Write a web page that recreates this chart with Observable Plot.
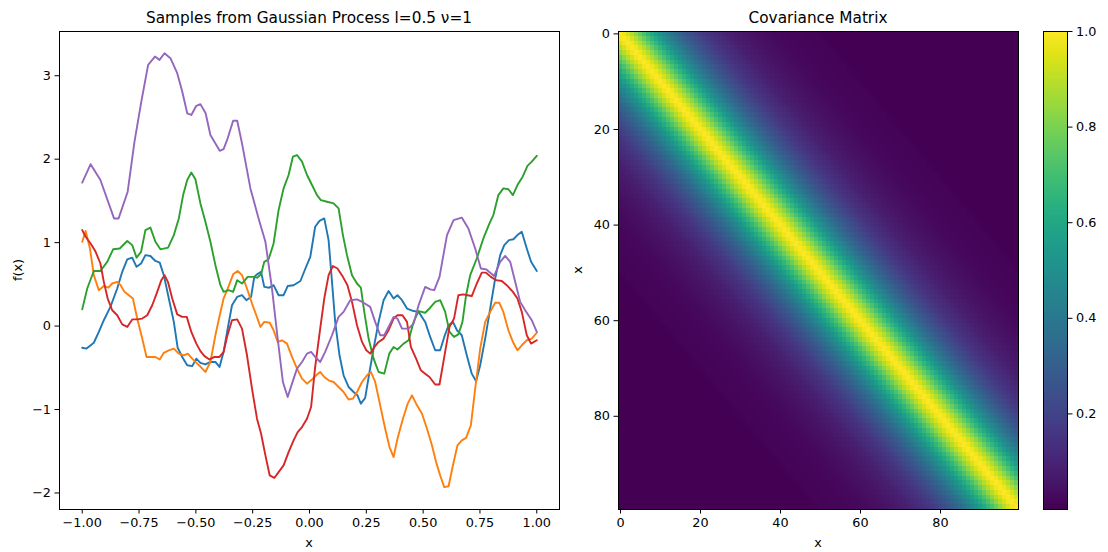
<!DOCTYPE html>
<html><head><meta charset="utf-8">
<script src="https://cdn.jsdelivr.net/npm/d3@7"></script>
<script src="https://cdn.jsdelivr.net/npm/@observablehq/plot@0.6"></script>
<style>
body{margin:0;background:#fff;}
#wrap{position:relative;width:1108px;height:552px;overflow:hidden;background:#fff}
#wrap svg{position:absolute;top:0}
</style></head><body><div id="wrap"></div>
<script>
// ---- Samples (x, f(x)) ----
const blue = [[-1,-0.26],[-0.981,-0.27],[-0.949,-0.20],[-0.927,-0.07],[-0.905,0.07],[-0.876,0.23],[-0.846,0.45],[-0.824,0.65],[-0.802,0.80],[-0.78,0.82],[-0.761,0.71],[-0.741,0.75],[-0.722,0.85],[-0.70,0.84],[-0.678,0.78],[-0.659,0.76],[-0.641,0.61],[-0.619,0.33],[-0.597,0.05],[-0.58,-0.26],[-0.56,-0.37],[-0.538,-0.47],[-0.516,-0.48],[-0.498,-0.39],[-0.48,-0.44],[-0.458,-0.46],[-0.436,-0.43],[-0.414,-0.43],[-0.396,-0.49],[-0.378,-0.31],[-0.36,-0.03],[-0.341,0.25],[-0.318,0.35],[-0.297,0.37],[-0.278,0.31],[-0.257,0.35],[-0.243,0.59],[-0.231,0.62],[-0.213,0.65],[-0.199,0.47],[-0.177,0.46],[-0.158,0.49],[-0.136,0.37],[-0.114,0.37],[-0.096,0.48],[-0.07,0.49],[-0.04,0.54],[-0.018,0.69],[0.0035,0.83],[0.025,1.19],[0.044,1.26],[0.065,1.29],[0.084,1.03],[0.099,0.53],[0.113,0.05],[0.132,-0.35],[0.15,-0.59],[0.172,-0.73],[0.194,-0.79],[0.211,-0.83],[0.226,-0.93],[0.245,-0.86],[0.264,-0.55],[0.282,-0.27],[0.304,0.05],[0.326,0.31],[0.348,0.42],[0.37,0.33],[0.387,0.37],[0.407,0.31],[0.429,0.21],[0.458,0.18],[0.48,0.17],[0.509,0.05],[0.531,-0.13],[0.553,-0.29],[0.575,-0.29],[0.593,-0.13],[0.612,0.01],[0.631,0.05],[0.649,-0.05],[0.67,-0.11],[0.692,-0.35],[0.714,-0.57],[0.733,-0.66],[0.751,-0.47],[0.773,-0.15],[0.795,0.21],[0.817,0.57],[0.839,0.85],[0.857,0.97],[0.878,1.03],[0.897,1.04],[0.915,1.09],[0.934,1.13],[0.956,0.93],[0.975,0.77],[1.0,0.66]];
const orange = [[-1,1.01],[-0.985,1.14],[-0.966,0.93],[-0.949,0.61],[-0.927,0.43],[-0.905,0.48],[-0.885,0.46],[-0.868,0.51],[-0.846,0.53],[-0.831,0.49],[-0.814,0.41],[-0.795,0.37],[-0.777,0.33],[-0.758,0.09],[-0.736,-0.15],[-0.717,-0.37],[-0.70,-0.37],[-0.678,-0.37],[-0.659,-0.40],[-0.641,-0.32],[-0.619,-0.29],[-0.597,-0.27],[-0.575,-0.33],[-0.553,-0.35],[-0.536,-0.33],[-0.516,-0.39],[-0.494,-0.45],[-0.475,-0.50],[-0.458,-0.55],[-0.436,-0.43],[-0.414,-0.11],[-0.395,0.13],[-0.378,0.33],[-0.36,0.45],[-0.336,0.62],[-0.316,0.66],[-0.297,0.61],[-0.275,0.45],[-0.253,0.27],[-0.234,0.13],[-0.216,-0.01],[-0.199,0.05],[-0.175,0.04],[-0.158,-0.05],[-0.14,-0.19],[-0.121,-0.17],[-0.099,-0.21],[-0.077,-0.37],[-0.055,-0.51],[-0.033,-0.63],[-0.011,-0.69],[0.011,-0.64],[0.033,-0.58],[0.047,-0.55],[0.065,-0.61],[0.084,-0.65],[0.106,-0.67],[0.128,-0.73],[0.15,-0.79],[0.172,-0.88],[0.191,-0.87],[0.209,-0.79],[0.231,-0.67],[0.253,-0.59],[0.27,-0.55],[0.289,-0.67],[0.311,-0.95],[0.333,-1.23],[0.352,-1.45],[0.37,-1.57],[0.387,-1.35],[0.411,-1.11],[0.432,-0.93],[0.451,-0.83],[0.473,-0.95],[0.495,-1.05],[0.517,-1.23],[0.539,-1.43],[0.557,-1.63],[0.575,-1.79],[0.593,-1.93],[0.612,-1.92],[0.631,-1.67],[0.651,-1.43],[0.67,-1.37],[0.689,-1.34],[0.71,-1.19],[0.729,-0.75],[0.751,-0.27],[0.773,0.05],[0.795,0.17],[0.817,0.28],[0.835,0.28],[0.853,0.17],[0.875,-0.05],[0.895,-0.19],[0.915,-0.29],[0.934,-0.23],[0.956,-0.17],[0.978,-0.15],[1.0,-0.08]];
const green = [[-1,0.20],[-0.978,0.45],[-0.949,0.66],[-0.92,0.66],[-0.89,0.77],[-0.864,0.92],[-0.835,0.93],[-0.802,1.02],[-0.78,0.97],[-0.761,0.82],[-0.741,0.89],[-0.722,1.15],[-0.70,1.18],[-0.678,1.01],[-0.656,0.92],[-0.622,0.94],[-0.597,1.09],[-0.575,1.29],[-0.556,1.57],[-0.538,1.75],[-0.52,1.84],[-0.502,1.76],[-0.48,1.47],[-0.458,1.25],[-0.436,1.01],[-0.414,0.73],[-0.392,0.49],[-0.378,0.41],[-0.356,0.43],[-0.336,0.41],[-0.318,0.55],[-0.297,0.51],[-0.272,0.59],[-0.246,0.59],[-0.231,0.58],[-0.213,0.62],[-0.199,0.77],[-0.18,0.80],[-0.158,0.99],[-0.136,1.39],[-0.114,1.65],[-0.092,1.81],[-0.073,2.03],[-0.055,2.05],[-0.033,1.97],[-0.011,1.81],[0.011,1.69],[0.033,1.57],[0.05,1.51],[0.077,1.49],[0.106,1.47],[0.128,1.41],[0.147,1.09],[0.165,0.85],[0.187,0.61],[0.209,0.51],[0.226,0.46],[0.241,0.17],[0.26,-0.15],[0.282,-0.39],[0.304,-0.55],[0.329,-0.57],[0.351,-0.33],[0.37,-0.25],[0.387,-0.28],[0.414,-0.21],[0.436,-0.17],[0.458,0.05],[0.48,0.18],[0.509,0.16],[0.531,0.22],[0.553,0.29],[0.575,0.31],[0.597,0.17],[0.616,-0.07],[0.636,-0.13],[0.655,-0.10],[0.673,0.05],[0.689,0.37],[0.707,0.61],[0.736,0.81],[0.765,1.05],[0.792,1.23],[0.809,1.33],[0.831,1.57],[0.853,1.65],[0.875,1.64],[0.895,1.57],[0.915,1.69],[0.938,1.79],[0.959,1.92],[0.978,1.97],[1.0,2.04]];
const red = [[-1,1.15],[-0.985,1.07],[-0.963,0.99],[-0.941,0.89],[-0.92,0.75],[-0.905,0.53],[-0.888,0.33],[-0.868,0.19],[-0.846,0.13],[-0.824,0.02],[-0.802,-0.01],[-0.78,0.08],[-0.758,0.08],[-0.736,0.09],[-0.714,0.13],[-0.692,0.25],[-0.67,0.41],[-0.652,0.55],[-0.638,0.61],[-0.623,0.53],[-0.604,0.33],[-0.582,0.14],[-0.56,0.11],[-0.54,0.11],[-0.52,-0.07],[-0.498,-0.21],[-0.48,-0.30],[-0.462,-0.36],[-0.44,-0.40],[-0.418,-0.37],[-0.396,-0.37],[-0.378,-0.31],[-0.363,-0.13],[-0.341,0.07],[-0.318,0.08],[-0.297,-0.03],[-0.275,-0.35],[-0.253,-0.75],[-0.231,-1.11],[-0.213,-1.29],[-0.194,-1.55],[-0.175,-1.79],[-0.155,-1.82],[-0.136,-1.75],[-0.114,-1.67],[-0.092,-1.51],[-0.07,-1.37],[-0.052,-1.27],[-0.033,-1.21],[-0.011,-1.11],[0.007,-0.97],[0.025,-0.49],[0.047,-0.03],[0.065,0.33],[0.084,0.61],[0.103,0.72],[0.123,0.69],[0.147,0.59],[0.167,0.49],[0.187,0.29],[0.209,0.01],[0.231,-0.19],[0.25,-0.29],[0.267,-0.33],[0.286,-0.25],[0.304,-0.19],[0.326,-0.15],[0.348,-0.05],[0.37,0.09],[0.387,0.13],[0.409,0.13],[0.429,0.05],[0.446,-0.25],[0.469,-0.39],[0.49,-0.53],[0.509,-0.57],[0.528,-0.61],[0.553,-0.70],[0.572,-0.70],[0.593,-0.37],[0.616,-0.01],[0.636,0.09],[0.655,0.37],[0.677,0.38],[0.695,0.37],[0.714,0.36],[0.736,0.51],[0.758,0.64],[0.777,0.64],[0.798,0.59],[0.821,0.55],[0.846,0.54],[0.868,0.49],[0.895,0.41],[0.915,0.33],[0.934,0.17],[0.956,-0.11],[0.975,-0.21],[1.0,-0.17]];
const purple = [[-1,1.72],[-0.963,1.94],[-0.92,1.75],[-0.86,1.29],[-0.84,1.29],[-0.80,1.61],[-0.77,2.21],[-0.74,2.69],[-0.71,3.13],[-0.68,3.23],[-0.66,3.19],[-0.638,3.27],[-0.612,3.21],[-0.582,3.03],[-0.56,2.81],[-0.538,2.55],[-0.52,2.53],[-0.498,2.64],[-0.48,2.66],[-0.457,2.55],[-0.436,2.29],[-0.395,2.10],[-0.378,2.12],[-0.36,2.25],[-0.336,2.46],[-0.318,2.46],[-0.297,2.19],[-0.26,1.65],[-0.224,1.29],[-0.194,1.01],[-0.165,0.45],[-0.14,-0.15],[-0.117,-0.67],[-0.096,-0.85],[-0.077,-0.69],[-0.055,-0.51],[-0.033,-0.43],[-0.011,-0.33],[0.007,-0.31],[0.025,-0.37],[0.047,-0.43],[0.069,-0.31],[0.099,-0.11],[0.128,0.11],[0.15,0.17],[0.179,0.31],[0.209,0.32],[0.238,0.28],[0.267,0.23],[0.289,0.05],[0.311,-0.11],[0.329,-0.11],[0.348,-0.01],[0.37,0.11],[0.387,0.09],[0.407,-0.03],[0.436,-0.03],[0.458,0.03],[0.48,0.25],[0.509,0.47],[0.531,0.44],[0.549,0.43],[0.572,0.59],[0.605,1.09],[0.634,1.27],[0.67,1.30],[0.699,1.17],[0.729,0.93],[0.754,0.69],[0.777,0.68],[0.812,0.60],[0.839,0.77],[0.861,0.84],[0.883,0.77],[0.905,0.53],[0.927,0.29],[0.949,0.19],[0.978,0.07],[1.0,-0.07]];
const seriesColors = ["#1f77b4","#ff7f0e","#2ca02c","#d62728","#9467bd"];
const xTicks = [-1,-0.75,-0.5,-0.25,0,0.25,0.5,0.75,1];
const yTicks = [-2,-1,0,1,2,3];

// ---- Covariance vs index lag |i-j| ----
const nPoints = 100;
const covByLag = [1.000,0.978,0.937,0.886,0.829,0.772,0.714,0.659,0.605,0.554,0.507,0.461,0.419,0.381,0.345,0.312,0.283,0.256,0.231,0.208,0.187,0.169,0.152,0.137,0.122,0.110,0.099,0.089,0.080,0.072,0.064,0.058,0.052,0.046,0.041,0.037,0.033,0.029,0.026,0.023,0.021,0.019,0.017,0.015,0.013,0.012,0.011,0.010,0.009,0.008,0.007];
const matTicks = [0,20,40,60,80];
const cbTicks = [0.2,0.4,0.6,0.8,1.0];

const FONT = "DejaVu Sans";
const TICK_FS = "12.8px";
const wrap = document.getElementById("wrap");
const common = {fontFamily: FONT, fontSize: TICK_FS, color: "#000", background: "transparent", overflow: "visible"};

// ---- Left: samples ----
const lines = [blue, orange, green, red, purple].map((s, k) =>
  Plot.line(s, {x: d => d[0], y: d => d[1], stroke: seriesColors[k], strokeWidth: 1.9}));
const left = Plot.plot({
  width: 580, height: 552,
  marginLeft: 59, marginRight: 21, marginTop: 31, marginBottom: 43,
  style: common,
  x: {domain: [-1.1, 1.1], ticks: xTicks, tickFormat: d3.format(".2f"), tickSize: 4.5, tickPadding: 4, label: null},
  y: {domain: [-2.198, 3.53], ticks: yTicks, tickFormat: d3.format("d"), tickSize: 4.5, tickPadding: 4, label: null},
  marks: [...lines, Plot.frame({stroke: "#000", strokeWidth: 1})]
});
left.style.left = "0px";
wrap.appendChild(left);

// ---- Middle: covariance matrix ----
const cells = [];
for (let i = 0; i < nPoints; i++)
  for (let j = 0; j < nPoints; j++)
    cells.push({i, j, v: covByLag[Math.abs(i - j)] ?? 0});
const heat = Plot.plot({
  width: 450, height: 552,
  marginLeft: 38, marginRight: 12, marginTop: 31, marginBottom: 43,
  style: common,
  x: {domain: [-0.5, nPoints - 0.5], ticks: matTicks, tickFormat: d3.format("d"), tickSize: 4.5, tickPadding: 4, label: null},
  y: {domain: [-0.5, nPoints - 0.5], reverse: true, ticks: matTicks, tickFormat: d3.format("d"), tickSize: 4.5, tickPadding: 4, label: null},
  color: {type: "linear", scheme: "viridis", domain: [0, 1]},
  marks: [
    Plot.rect(cells, {x1: d => d.j - 0.5, x2: d => d.j + 0.5, y1: d => d.i - 0.5, y2: d => d.i + 0.5, fill: "v", shapeRendering: "crispEdges"}),
    Plot.frame({stroke: "#000", strokeWidth: 1})
  ]
});
heat.style.left = "580px";
wrap.appendChild(heat);

// ---- Colorbar ----
const ramp = d3.range(0, 1, 0.0025);
const cbar = Plot.plot({
  width: 78, height: 552,
  marginLeft: 13, marginRight: 41, marginTop: 31, marginBottom: 43,
  style: common,
  x: {domain: [0, 1], axis: null},
  y: {domain: [0, 1], axis: "right", ticks: cbTicks, tickFormat: d3.format(".1f"), tickSize: 4.5, tickPadding: 4, label: null},
  color: {type: "linear", scheme: "viridis", domain: [0, 1]},
  marks: [
    Plot.rect(ramp, {x1: 0, x2: 1, y1: d => d, y2: d => Math.min(1, d + 0.0025), fill: d => d, shapeRendering: "crispEdges"}),
    Plot.frame({stroke: "#000", strokeWidth: 1})
  ]
});
cbar.style.left = "1030px";
wrap.appendChild(cbar);

// ---- Titles and axis labels ----
const ns = "http://www.w3.org/2000/svg";
const over = document.createElementNS(ns, "svg");
over.setAttribute("width", 1108); over.setAttribute("height", 552);
over.style.left = "0px"; over.style.pointerEvents = "none";
function txt(s, x, y, size, rot) {
  const t = document.createElementNS(ns, "text");
  t.textContent = s;
  t.setAttribute("x", 0); t.setAttribute("y", 0);
  t.setAttribute("transform", `translate(${x},${y})` + (rot ? ` rotate(${rot})` : ""));
  t.setAttribute("text-anchor", "middle");
  t.setAttribute("font-family", FONT);
  t.setAttribute("font-size", size);
  t.setAttribute("fill", "#000");
  over.appendChild(t);
}
txt("Samples from Gaussian Process l=0.5 ν=1", 309, 23, 15.3);
txt("Covariance Matrix", 818, 23, 15.3);
txt("x", 309, 547, 12.8);
txt("x", 818, 547, 12.8);
txt("f(x)", 22, 270, 12.8, -90);
txt("x", 582, 270, 12.8, -90);
wrap.appendChild(over);
</script></body></html>
